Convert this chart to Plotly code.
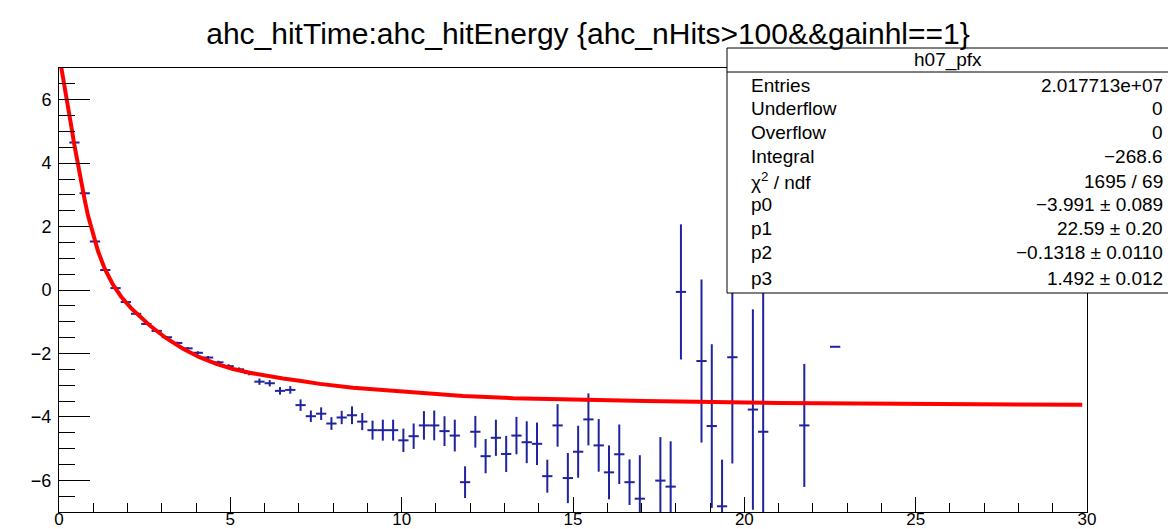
import plotly.graph_objects as go

# ---- profile data (bin centre, mean, error) ----
bin_x = [0.45, 0.75, 1.05, 1.35, 1.65, 1.95, 2.25, 2.55, 2.85, 3.15,
         3.45, 3.75, 4.05, 4.35, 4.65, 4.95, 5.25, 5.55, 5.85, 6.15,
         6.45, 6.75, 7.05, 7.35, 7.65, 7.95, 8.25, 8.55, 8.85, 9.15,
         9.45, 9.75, 10.05, 10.35, 10.65, 10.95, 11.25, 11.55, 11.85, 12.15,
         12.45, 12.75, 13.05, 13.35, 13.65, 13.95, 14.25, 14.55, 14.85, 15.15,
         15.45, 15.75, 16.05, 16.35, 16.65, 16.95, 17.55, 17.85, 18.15, 18.75,
         19.05, 19.35, 19.65, 20.25, 20.55, 21.75, 22.65]
bin_y = [4.65, 3.05, 1.53, 0.63, 0.06, -0.38, -0.75, -1.07, -1.29, -1.49,
         -1.67, -1.84, -1.98, -2.13, -2.28, -2.40, -2.50, -2.62, -2.89, -2.94,
         -3.18, -3.15, -3.63, -3.98, -3.90, -4.21, -4.02, -3.95, -4.15, -4.42,
         -4.42, -4.42, -4.74, -4.61, -4.27, -4.27, -4.45, -4.59, -6.06, -4.47,
         -5.24, -4.66, -5.17, -4.59, -4.80, -4.85, -5.87, -4.27, -5.93, -5.10,
         -4.08, -4.90, -5.75, -5.18, -6.06, -6.58, -6.01, -6.20, -0.06, -2.24,
         -4.29, -6.82, -2.12, -3.77, -4.47, -4.27, -1.79]
bin_err = [0.03, 0.03, 0.03, 0.03, 0.03, 0.03, 0.03, 0.03, 0.04, 0.04,
           0.04, 0.04, 0.05, 0.05, 0.05, 0.06, 0.06, 0.07, 0.10, 0.10,
           0.12, 0.12, 0.18, 0.18, 0.20, 0.20, 0.21, 0.28, 0.27, 0.30,
           0.33, 0.33, 0.37, 0.40, 0.45, 0.47, 0.47, 0.50, 0.50, 0.50,
           0.54, 0.57, 0.57, 0.59, 0.66, 0.67, 0.52, 0.67, 0.79, 0.82,
           0.82, 0.83, 0.85, 0.94, 0.72, 1.37, 1.37, 1.43, 2.13, 2.57,
           2.58, 1.47, 3.35, 3.16, 4.60, 1.94, 0.0]
bin_half_width = [0.15] * len(bin_x)

# ---- fitted function ----
fit_x = [0.03, 0.17, 0.28, 0.36, 0.44, 0.575, 0.75, 0.85, 0.99, 1.14,
         1.33, 1.58, 1.82, 2.11, 2.65, 3.13, 3.62, 4.10, 4.59, 5.08,
         5.56, 6.05, 6.54, 7.02, 7.61, 8.58, 9.85, 10.82, 11.79, 13.25,
         14.70, 17.10, 21.00, 25.00, 29.86]
fit_y = [7.25, 6.42, 5.70, 5.15, 4.62, 3.80, 2.84, 2.33, 1.76, 1.22,
         0.68, 0.16, -0.22, -0.58, -1.12, -1.52, -1.85, -2.12, -2.33, -2.49,
         -2.61, -2.71, -2.79, -2.86, -2.96, -3.08, -3.19, -3.27, -3.34, -3.41,
         -3.45, -3.50, -3.56, -3.60, -3.62]

# ---- stats box text ----
stats_title = "h07_pfx"
stats_labels = ["Entries", "Underflow", "Overflow", "Integral", "χ<sup>2</sup> / ndf",
                "p0", "p1", "p2", "p3"]
stats_values = ["2.017713e+07", "0", "0", "−268.6", "1695 / 69",
                "−3.991 ± 0.089", "22.59 ± 0.20", "−0.1318 ± 0.0110", "1.492 ± 0.012"]

title_text = "ahc_hitTime:ahc_hitEnergy {ahc_nHits>100&&gainhl==1}"

BLUE = "#20239e"
FONT = "Liberation Sans, Arial, Helvetica, sans-serif"

fig = go.Figure()

fig.add_trace(go.Scatter(
    x=bin_x, y=bin_y, mode="markers",
    marker=dict(size=1, color="rgba(0,0,0,0)"),
    error_y=dict(type="data", array=bin_err, visible=True, color=BLUE, thickness=2, width=0),
    error_x=dict(type="data", array=bin_half_width, visible=True, color=BLUE, thickness=2, width=0),
    showlegend=False, hoverinfo="skip",
))

fig.add_trace(go.Scatter(
    x=fit_x, y=fit_y, mode="lines",
    line=dict(color="#ff0000", width=4),
    showlegend=False, hoverinfo="skip",
))

# page body has an 8px default margin -> size the figure for that
OFF = 8
W, H = 1168, 521
ml, mr, mt, mb = 51, 89, 60, 17
pw, ph = W - ml - mr, H - mt - mb
plot_bottom_page = OFF + H - mb


def px(xp):
    return (xp - OFF - ml) / pw


def py(yp):
    return (plot_bottom_page - yp) / ph


fig.update_layout(
    width=W, height=H,
    margin=dict(l=ml, r=mr, t=mt, b=mb, pad=0, autoexpand=False),
    paper_bgcolor="white", plot_bgcolor="white",
    font=dict(family=FONT, color="black"),
    title=dict(text=title_text, x=(588 - OFF) / W, xanchor="center", xref="container",
               y=1 - (33 - OFF) / H, yanchor="middle", yref="container",
               font=dict(size=30, family=FONT, color="black")),
)

fig.update_xaxes(
    range=[0, 30], showgrid=False, zeroline=False, automargin=False,
    showline=True, mirror=True, linecolor="black", linewidth=1,
    ticks="inside", tick0=0, dtick=5, ticklen=15, tickwidth=1, tickcolor="black",
    minor=dict(ticks="inside", dtick=1, ticklen=9, tickwidth=1, tickcolor="black"),
    tickfont=dict(size=17, family=FONT, color="black"),
    ticklabelstandoff=-8,
)
fig.update_yaxes(
    range=[-7, 7], showgrid=False, zeroline=False, automargin=False,
    showline=True, mirror=True, linecolor="black", linewidth=1,
    ticks="inside", tick0=0, dtick=2, ticklen=31, tickwidth=1, tickcolor="black",
    minor=dict(ticks="inside", dtick=0.5, ticklen=16, tickwidth=1, tickcolor="black"),
    tickfont=dict(size=18, family=FONT, color="black"),
    ticklabelstandoff=3,
)

# stats box (page pixel coordinates converted to paper)
bx0, bx1, by0, by1, hline = 727, 1169, 293, 48, 72
fig.add_shape(type="rect", xref="paper", yref="paper",
              x0=px(bx0), x1=px(bx1), y0=py(by0), y1=py(by1),
              line=dict(color="black", width=1), fillcolor="white", layer="above")
fig.add_shape(type="line", xref="paper", yref="paper",
              x0=px(bx0), x1=px(bx1), y0=py(hline), y1=py(hline),
              line=dict(color="black", width=1), layer="above")
fig.add_annotation(text=stats_title, xref="paper", yref="paper",
                   x=px((bx0 + bx1) / 2), y=py(60), xanchor="center", yanchor="middle",
                   showarrow=False, font=dict(size=19, family=FONT, color="black"))
row_y = [85, 109, 133, 157, 181, 205, 229, 253, 278]
for lab, val, yy in zip(stats_labels, stats_values, row_y):
    fig.add_annotation(text=lab, xref="paper", yref="paper", x=px(749), y=py(yy),
                       xanchor="left", yanchor="middle", showarrow=False,
                       font=dict(size=19, family=FONT, color="black"))
    fig.add_annotation(text=val, xref="paper", yref="paper", x=px(1165), y=py(yy),
                       xanchor="right", yanchor="middle", showarrow=False,
                       font=dict(size=19, family=FONT, color="black"))

fig.write_html("out.html")
